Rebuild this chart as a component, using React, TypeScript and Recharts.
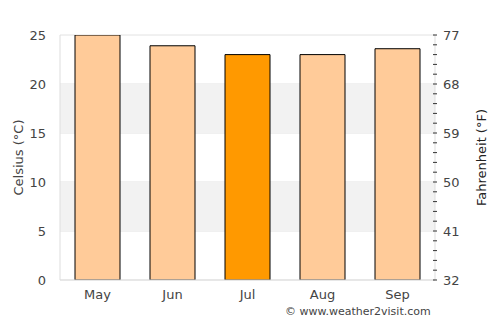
import { Bar, CartesianGrid, Cell, ComposedChart, Line, ReferenceArea, XAxis, YAxis } from "recharts";

const months = ["May", "Jun", "Jul", "Aug", "Sep"];
const celsius = [25, 23.9, 23.0, 23.0, 23.6];
const highlightMonth = "Jul";
const celsiusTicks = [0, 5, 10, 15, 20, 25];
const fahrenheitLabels = [32, 41, 50, 59, 68, 77];
const minorTicks = [0, 1, 2, 3, 4, 5, 6, 7, 8, 9, 10, 11, 12, 13, 14, 15, 16, 17, 18, 19, 20, 21, 22, 23, 24, 25];
const shadedBands = [
  [5, 10],
  [15, 20],
];

const data = months.map((month, i) => ({ month, temp: celsius[i] }));

const FONT = "DejaVu Sans, sans-serif";

function FahrenheitTick(props: any) {
  const { x, y, payload } = props;
  const idx = celsiusTicks.indexOf(payload.value);
  return (
    <g>
      <line x1={x - 10} x2={x - 6} y1={y} y2={y} stroke="#333" strokeWidth={1} />
      {idx >= 0 && (
        <text x={x} y={y} dy={4.5} fill="#444" fontSize={13} fontFamily={FONT} textAnchor="start">
          {fahrenheitLabels[idx]}
        </text>
      )}
    </g>
  );
}

export default function App() {
  return (
    <div style={{ position: "absolute", left: 0, top: 0, width: 500, height: 325, background: "#fff" }}>
      <ComposedChart width={500} height={325} data={data} margin={{ top: 35, right: 0, left: 0, bottom: 15 }} barCategoryGap="20%">
        {shadedBands.map(([a, b]) => (
          <ReferenceArea key={a} yAxisId="c" y1={a} y2={b} fill="#f2f2f2" fillOpacity={1} stroke="none" />
        ))}
        <CartesianGrid yAxisId="c" vertical={false} stroke="#e2e2e2" />
        <XAxis
          dataKey="month"
          height={30}
          tickLine={false}
          axisLine={{ stroke: "#dddddd" }}
          tick={{ fill: "#444", fontSize: 13, fontFamily: FONT }}
          tickMargin={4}
        />
        <YAxis
          yAxisId="c"
          orientation="left"
          width={60}
          domain={[0, 25]}
          ticks={celsiusTicks}
          allowDataOverflow
          tickLine={false}
          axisLine={{ stroke: "#dddddd" }}
          tick={{ fill: "#444", fontSize: 13, fontFamily: FONT }}
          tickMargin={8}
          label={{
            value: "Celsius (°C)",
            angle: -90,
            position: "insideLeft",
            offset: 18,
            style: { textAnchor: "middle", fill: "#444", fontSize: 13, fontFamily: FONT },
          }}
        />
        <YAxis
          yAxisId="f"
          orientation="right"
          width={65}
          domain={[0, 25]}
          ticks={minorTicks}
          interval={0}
          allowDataOverflow
          tickLine={false}
          axisLine={{ stroke: "#dddddd" }}
          tick={<FahrenheitTick />}
          tickMargin={2}
          label={{
            value: "Fahrenheit (°F)",
            angle: -90,
            position: "insideRight",
            offset: 19,
            style: { textAnchor: "middle", fill: "#222", fontSize: 13, fontFamily: FONT },
          }}
        />
        <Bar yAxisId="c" dataKey="temp" stroke="#000" strokeWidth={1} isAnimationActive={false}>
          {data.map((d) => (
            <Cell key={d.month} fill={d.month === highlightMonth ? "#ff9900" : "#ffcb99"} />
          ))}
        </Bar>
        <Line yAxisId="f" dataKey="temp" stroke="none" dot={false} activeDot={false} isAnimationActive={false} />
      </ComposedChart>
      <div
        style={{
          position: "absolute",
          left: 285,
          top: 305,
          fontFamily: FONT,
          fontSize: 11,
          color: "#444",
          whiteSpace: "nowrap",
        }}
      >
        © www.weather2visit.com
      </div>
    </div>
  );
}
